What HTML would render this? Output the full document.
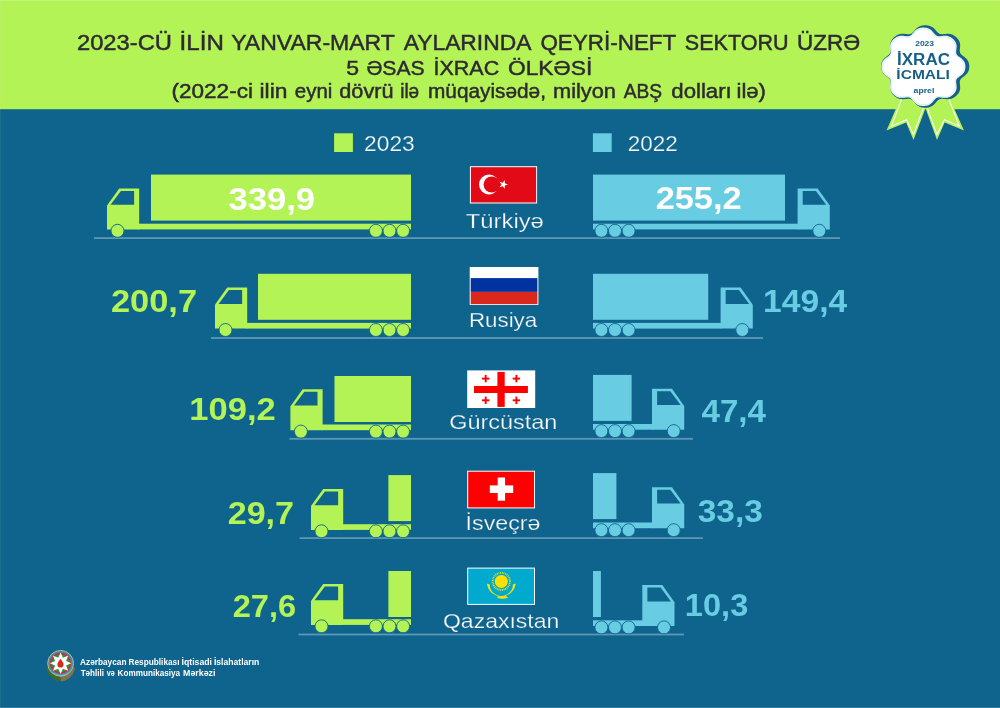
<!DOCTYPE html>
<html lang="az"><head><meta charset="utf-8"><title>İxrac icmalı 2023 aprel</title>
<style>html,body{margin:0;padding:0;background:#0e648c}svg{display:block}text{font-family:"Liberation Sans",Arimo,Helvetica,Arial,sans-serif}</style></head><body>
<svg width="1000" height="708" viewBox="0 0 1000 708">
<rect width="1000" height="708" fill="#0e648c"/>
<rect width="1000" height="109.2" fill="#b4f355"/>
<text y="50.40" font-size="21.80" fill="#2e2a33" stroke="#2e2a33" stroke-width="0.45"><tspan x="76.96" textLength="95.04" lengthAdjust="spacingAndGlyphs">2023-CÜ</tspan> <tspan x="179.62" textLength="44.22" lengthAdjust="spacingAndGlyphs">İLİN</tspan> <tspan x="231.22" textLength="163.22" lengthAdjust="spacingAndGlyphs">YANVAR-MART</tspan> <tspan x="403.72" textLength="126.38" lengthAdjust="spacingAndGlyphs">AYLARINDA</tspan> <tspan x="540.42" textLength="135.48" lengthAdjust="spacingAndGlyphs">QEYRİ-NEFT</tspan> <tspan x="684.80" textLength="103.74" lengthAdjust="spacingAndGlyphs">SEKTORU</tspan> <tspan x="797.12" textLength="62.96" lengthAdjust="spacingAndGlyphs">ÜZRƏ</tspan></text>
<text y="74.90" font-size="20.80" fill="#2e2a33" stroke="#2e2a33" stroke-width="0.45"><tspan x="346.26" textLength="12.82" lengthAdjust="spacingAndGlyphs">5</tspan> <tspan x="366.42" textLength="58.32" lengthAdjust="spacingAndGlyphs">ƏSAS</tspan> <tspan x="433.54" textLength="65.62" lengthAdjust="spacingAndGlyphs">İXRAC</tspan> <tspan x="507.96" textLength="84.34" lengthAdjust="spacingAndGlyphs">ÖLKƏSİ</tspan></text>
<text y="98.20" font-size="19.60" fill="#2e2a33" stroke="#2e2a33" stroke-width="0.45"><tspan x="171.53" textLength="81.43" lengthAdjust="spacingAndGlyphs">(2022-ci</tspan> <tspan x="259.54" textLength="27.89" lengthAdjust="spacingAndGlyphs">ilin</tspan> <tspan x="294.83" textLength="37.59" lengthAdjust="spacingAndGlyphs">eyni</tspan> <tspan x="339.33" textLength="54.13" lengthAdjust="spacingAndGlyphs">dövrü</tspan> <tspan x="400.23" textLength="18.93" lengthAdjust="spacingAndGlyphs">ilə</tspan> <tspan x="428.00" textLength="117.97" lengthAdjust="spacingAndGlyphs">müqayisədə,</tspan> <tspan x="552.99" textLength="62.97" lengthAdjust="spacingAndGlyphs">milyon</tspan> <tspan x="623.79" textLength="38.37" lengthAdjust="spacingAndGlyphs">ABŞ</tspan> <tspan x="671.29" textLength="60.47" lengthAdjust="spacingAndGlyphs">dolları</tspan> <tspan x="736.53" textLength="29.43" lengthAdjust="spacingAndGlyphs">ilə)</tspan></text>
<rect x="334.1" y="133.3" width="18.8" height="18.7" fill="#b4f355"/>
<text x="364.13" y="150.50" font-size="22.20" fill="#fff" textLength="50.66" lengthAdjust="spacingAndGlyphs" stroke="#0e648c" stroke-width="0.25">2023</text>
<rect x="592.9" y="133.3" width="18.8" height="18.7" fill="#68cce3"/>
<text x="627.69" y="150.50" font-size="22.20" fill="#fff" textLength="49.94" lengthAdjust="spacingAndGlyphs" stroke="#0e648c" stroke-width="0.25">2022</text>
<rect x="94.00" y="237.20" width="746.00" height="1.8" fill="#5e97b5"/>
<g fill="#b4f355">
<rect x="151.00" y="174.60" width="260.00" height="46"/>
<rect x="138.20" y="223.70" width="272.80" height="5.7"/>
<path d="M119.20 188.40H139.20V229.40H107.00V205.60Z"/>
<path fill="#0e648c" d="M120.90 190.90H134.10V204.80H110.60Z"/>
<circle cx="117.50" cy="230.80" r="6.5" stroke="#0e648c" stroke-width="0.9"/>
<circle cx="375.90" cy="230.80" r="6.5" stroke="#0e648c" stroke-width="0.9"/>
<circle cx="389.50" cy="230.80" r="6.5" stroke="#0e648c" stroke-width="0.9"/>
<circle cx="403.10" cy="230.80" r="6.5" stroke="#0e648c" stroke-width="0.9"/>
</g>
<g fill="#68cce3">
<rect x="593.00" y="174.60" width="192.00" height="46"/>
<rect x="593.00" y="223.70" width="205.60" height="5.7"/>
<path d="M817.60 188.40H797.60V229.40H829.80V205.60Z"/>
<path fill="#0e648c" d="M815.90 190.90H802.70V204.80H826.20Z"/>
<circle cx="819.30" cy="230.80" r="6.5" stroke="#0e648c" stroke-width="0.9"/>
<circle cx="628.60" cy="230.80" r="6.5" stroke="#0e648c" stroke-width="0.9"/>
<circle cx="615.00" cy="230.80" r="6.5" stroke="#0e648c" stroke-width="0.9"/>
<circle cx="601.40" cy="230.80" r="6.5" stroke="#0e648c" stroke-width="0.9"/>
</g>
<rect x="211.00" y="337.10" width="552.00" height="1.8" fill="#5e97b5"/>
<g fill="#b4f355">
<rect x="258.00" y="273.80" width="153.00" height="46"/>
<rect x="246.20" y="322.90" width="164.80" height="5.7"/>
<path d="M227.20 287.60H247.20V328.60H215.00V304.80Z"/>
<path fill="#0e648c" d="M228.90 290.10H242.10V304.00H218.60Z"/>
<circle cx="225.50" cy="330.00" r="6.5" stroke="#0e648c" stroke-width="0.9"/>
<circle cx="375.90" cy="330.00" r="6.5" stroke="#0e648c" stroke-width="0.9"/>
<circle cx="389.50" cy="330.00" r="6.5" stroke="#0e648c" stroke-width="0.9"/>
<circle cx="403.10" cy="330.00" r="6.5" stroke="#0e648c" stroke-width="0.9"/>
</g>
<g fill="#68cce3">
<rect x="593.00" y="273.80" width="115.20" height="46"/>
<rect x="593.00" y="322.90" width="128.60" height="5.7"/>
<path d="M740.60 287.60H720.60V328.60H752.80V304.80Z"/>
<path fill="#0e648c" d="M738.90 290.10H725.70V304.00H749.20Z"/>
<circle cx="742.30" cy="330.00" r="6.5" stroke="#0e648c" stroke-width="0.9"/>
<circle cx="628.60" cy="330.00" r="6.5" stroke="#0e648c" stroke-width="0.9"/>
<circle cx="615.00" cy="330.00" r="6.5" stroke="#0e648c" stroke-width="0.9"/>
<circle cx="601.40" cy="330.00" r="6.5" stroke="#0e648c" stroke-width="0.9"/>
</g>
<rect x="289.50" y="437.90" width="403.50" height="1.8" fill="#5e97b5"/>
<g fill="#b4f355">
<rect x="334.50" y="376.00" width="76.50" height="46"/>
<rect x="321.60" y="424.50" width="89.40" height="5.7"/>
<path d="M302.60 389.20H322.60V430.20H290.40V406.40Z"/>
<path fill="#0e648c" d="M304.30 391.70H317.50V405.60H294.00Z"/>
<circle cx="300.90" cy="431.60" r="6.5" stroke="#0e648c" stroke-width="0.9"/>
<circle cx="375.90" cy="431.60" r="6.5" stroke="#0e648c" stroke-width="0.9"/>
<circle cx="389.50" cy="431.60" r="6.5" stroke="#0e648c" stroke-width="0.9"/>
<circle cx="403.10" cy="431.60" r="6.5" stroke="#0e648c" stroke-width="0.9"/>
</g>
<g fill="#68cce3">
<rect x="593.00" y="374.90" width="38.60" height="46"/>
<rect x="593.00" y="424.00" width="60.00" height="5.7"/>
<path d="M672.00 388.70H652.00V429.70H684.20V405.90Z"/>
<path fill="#0e648c" d="M670.30 391.20H657.10V405.10H680.60Z"/>
<circle cx="673.70" cy="431.10" r="6.5" stroke="#0e648c" stroke-width="0.9"/>
<circle cx="628.60" cy="431.10" r="6.5" stroke="#0e648c" stroke-width="0.9"/>
<circle cx="615.00" cy="431.10" r="6.5" stroke="#0e648c" stroke-width="0.9"/>
<circle cx="601.40" cy="431.10" r="6.5" stroke="#0e648c" stroke-width="0.9"/>
</g>
<rect x="299.60" y="537.20" width="403.20" height="1.8" fill="#5e97b5"/>
<g fill="#b4f355">
<rect x="388.40" y="475.10" width="22.60" height="46"/>
<rect x="342.20" y="524.20" width="68.80" height="5.7"/>
<path d="M323.20 488.90H343.20V529.90H311.00V506.10Z"/>
<path fill="#0e648c" d="M324.90 491.40H338.10V505.30H314.60Z"/>
<circle cx="321.50" cy="531.30" r="6.5" stroke="#0e648c" stroke-width="0.9"/>
<circle cx="375.90" cy="531.30" r="6.5" stroke="#0e648c" stroke-width="0.9"/>
<circle cx="389.50" cy="531.30" r="6.5" stroke="#0e648c" stroke-width="0.9"/>
<circle cx="403.10" cy="531.30" r="6.5" stroke="#0e648c" stroke-width="0.9"/>
</g>
<g fill="#68cce3">
<rect x="593.00" y="473.10" width="23.40" height="46"/>
<rect x="593.00" y="522.50" width="60.00" height="5.7"/>
<path d="M672.00 487.20H652.00V528.20H684.20V504.40Z"/>
<path fill="#0e648c" d="M670.30 489.70H657.10V503.60H680.60Z"/>
<circle cx="673.70" cy="530.20" r="6.5" stroke="#0e648c" stroke-width="0.9"/>
<circle cx="628.60" cy="530.20" r="6.5" stroke="#0e648c" stroke-width="0.9"/>
<circle cx="615.00" cy="530.20" r="6.5" stroke="#0e648c" stroke-width="0.9"/>
<circle cx="601.40" cy="530.20" r="6.5" stroke="#0e648c" stroke-width="0.9"/>
</g>
<rect x="298.40" y="633.60" width="385.60" height="1.8" fill="#5e97b5"/>
<g fill="#b4f355">
<rect x="388.40" y="571.00" width="22.60" height="46"/>
<rect x="342.20" y="619.20" width="68.80" height="5.7"/>
<path d="M323.20 583.90H343.20V624.90H311.00V601.10Z"/>
<path fill="#0e648c" d="M324.90 586.40H338.10V600.30H314.60Z"/>
<circle cx="321.50" cy="626.30" r="6.5" stroke="#0e648c" stroke-width="0.9"/>
<circle cx="375.90" cy="626.30" r="6.5" stroke="#0e648c" stroke-width="0.9"/>
<circle cx="389.50" cy="626.30" r="6.5" stroke="#0e648c" stroke-width="0.9"/>
<circle cx="403.10" cy="626.30" r="6.5" stroke="#0e648c" stroke-width="0.9"/>
</g>
<g fill="#68cce3">
<rect x="593.00" y="571.00" width="7.90" height="46"/>
<rect x="593.00" y="620.30" width="50.30" height="5.7"/>
<path d="M662.30 585.00H642.30V626.00H674.50V602.20Z"/>
<path fill="#0e648c" d="M660.60 587.50H647.40V601.40H670.90Z"/>
<circle cx="664.00" cy="627.40" r="6.5" stroke="#0e648c" stroke-width="0.9"/>
<circle cx="628.60" cy="627.40" r="6.5" stroke="#0e648c" stroke-width="0.9"/>
<circle cx="615.00" cy="627.40" r="6.5" stroke="#0e648c" stroke-width="0.9"/>
<circle cx="601.40" cy="627.40" r="6.5" stroke="#0e648c" stroke-width="0.9"/>
</g>
<text x="228.43" y="209.60" font-size="32.20" fill="#fff" font-weight="bold" textLength="86.64" lengthAdjust="spacingAndGlyphs">339,9</text>
<text x="655.69" y="209.40" font-size="32.20" fill="#fff" font-weight="bold" textLength="85.90" lengthAdjust="spacingAndGlyphs">255,2</text>
<text x="110.95" y="311.80" font-size="32.20" fill="#b4f355" font-weight="bold" textLength="86.16" lengthAdjust="spacingAndGlyphs">200,7</text>
<text x="763.13" y="311.70" font-size="32.20" fill="#68cce3" font-weight="bold" textLength="84.10" lengthAdjust="spacingAndGlyphs">149,4</text>
<text x="189.39" y="420.00" font-size="32.20" fill="#b4f355" font-weight="bold" textLength="86.46" lengthAdjust="spacingAndGlyphs">109,2</text>
<text x="701.49" y="422.20" font-size="32.20" fill="#68cce3" font-weight="bold" textLength="64.52" lengthAdjust="spacingAndGlyphs">47,4</text>
<text x="227.67" y="523.50" font-size="32.20" fill="#b4f355" font-weight="bold" textLength="66.40" lengthAdjust="spacingAndGlyphs">29,7</text>
<text x="697.71" y="521.60" font-size="32.20" fill="#68cce3" font-weight="bold" textLength="65.10" lengthAdjust="spacingAndGlyphs">33,3</text>
<text x="232.71" y="616.60" font-size="32.20" fill="#b4f355" font-weight="bold" textLength="63.38" lengthAdjust="spacingAndGlyphs">27,6</text>
<text x="684.89" y="616.30" font-size="32.20" fill="#68cce3" font-weight="bold" textLength="63.42" lengthAdjust="spacingAndGlyphs">10,3</text>
<text x="465.75" y="227.60" font-size="21.10" fill="#fff" textLength="78.07" lengthAdjust="spacingAndGlyphs" stroke="#0e648c" stroke-width="0.25">Türkiyə</text>
<text x="468.91" y="326.70" font-size="21.10" fill="#fff" textLength="68.33" lengthAdjust="spacingAndGlyphs" stroke="#0e648c" stroke-width="0.25">Rusiya</text>
<text x="449.21" y="429.00" font-size="21.10" fill="#fff" textLength="108.11" lengthAdjust="spacingAndGlyphs" stroke="#0e648c" stroke-width="0.25">Gürcüstan</text>
<text x="465.63" y="529.50" font-size="21.10" fill="#fff" textLength="74.93" lengthAdjust="spacingAndGlyphs" stroke="#0e648c" stroke-width="0.25">İsveçrə</text>
<text x="442.94" y="627.60" font-size="21.10" fill="#fff" textLength="116.37" lengthAdjust="spacingAndGlyphs" stroke="#0e648c" stroke-width="0.25">Qazaxıstan</text>
<rect x="469.90" y="166.20" width="67.20" height="37.30" fill="#fff"/>
<rect x="470.90" y="167.20" width="65.20" height="35.30" fill="#e30a17"/>
<circle cx="489" cy="184.5" r="10" fill="#fff"/><circle cx="491.7" cy="184.5" r="8.1" fill="#e30a17"/>
<polygon points="504.75,179.93 504.80,183.31 508.00,184.40 504.80,185.49 504.75,188.87 502.73,186.16 499.50,187.16 501.45,184.40 499.50,181.64 502.73,182.64" fill="#fff"/>
<rect x="469.70" y="267.00" width="68.70" height="37.90" fill="#fff"/>
<rect x="470.70" y="278.10" width="66.70" height="13.80" fill="#0033a0"/>
<rect x="470.70" y="291.90" width="66.70" height="12.20" fill="#da291c"/>
<rect x="467.20" y="370.40" width="68.00" height="37.60" fill="#fff"/>
<g fill="#ff0000"><rect x="497.4" y="371.9" width="7.3" height="35"/><rect x="474" y="386" width="53.9" height="7"/>
<rect x="484.75" y="374.90" width="1.9" height="7.4"/><rect x="482.00" y="377.65" width="7.4" height="1.9"/>
<rect x="484.75" y="396.60" width="1.9" height="7.4"/><rect x="482.00" y="399.35" width="7.4" height="1.9"/>
<rect x="515.45" y="374.90" width="1.9" height="7.4"/><rect x="512.70" y="377.65" width="7.4" height="1.9"/>
<rect x="515.45" y="396.60" width="1.9" height="7.4"/><rect x="512.70" y="399.35" width="7.4" height="1.9"/>
</g>
<rect x="467.20" y="470.70" width="67.80" height="37.70" fill="#fff"/>
<rect x="468.20" y="471.70" width="65.80" height="35.70" fill="#ff0000"/>
<rect x="497.7" y="477.5" width="7.4" height="23.2" fill="#fff"/><rect x="489.8" y="485.4" width="23.4" height="7.6" fill="#fff"/>
<rect x="467.20" y="567.60" width="67.80" height="37.30" fill="#fff"/>
<rect x="468.20" y="568.60" width="65.80" height="35.30" fill="#00a9ce"/>
<g fill="#ffe000">
<circle cx="501.3" cy="581.4" r="6.5"/>
<circle cx="501.3" cy="581.4" r="8.6" fill="none" stroke="#ffe000" stroke-width="1.8" stroke-dasharray="0.9 0.8"/>
<path d="M486.9 583.6A14.5 14.5 0 0 0 515.7 583.6L512.9 584.4A11.6 11.6 0 0 1 489.7 584.4Z"/>
<ellipse cx="502.4" cy="597.3" rx="5.3" ry="1.4"/>
</g>
<g fill="#b4f355"><path d="M900.5 98L886.5 130.6L906.2 122.6L913.5 140L925.2 109L922 98Z"/><path d="M925.8 109L937 140L944.6 122.6L964 130.6L949.5 98L928 98Z"/></g>
<g fill="none" stroke="#fff" stroke-width="1.05" stroke-linejoin="miter"><path d="M901.8 98.5L891.4 126.2L906.6 119.8L913.5 134.6L923.4 108L921 100"/><path d="M927.3 108L937 134.6L944.4 119.8L959.4 126.2L948.6 98.5"/></g>
<path d="M925.20 25.30L925.97 25.32L926.74 25.36L927.50 25.44L928.26 25.56L929.02 25.72L929.76 25.93L930.50 26.19L931.21 26.51L931.91 26.89L932.59 27.33L933.24 27.82L933.87 28.37L934.48 28.95L935.06 29.56L935.61 30.18L936.15 30.80L936.68 31.41L937.20 31.98L937.73 32.50L938.26 32.96L938.82 33.35L939.39 33.67L940.01 33.90L940.65 34.06L941.34 34.15L942.07 34.18L942.83 34.16L943.63 34.10L944.46 34.02L945.32 33.94L946.18 33.86L947.05 33.82L947.92 33.80L948.77 33.84L949.61 33.92L950.42 34.06L951.20 34.25L951.95 34.50L952.67 34.80L953.35 35.14L954.01 35.53L954.64 35.95L955.24 36.39L955.82 36.87L956.37 37.37L956.90 37.89L957.41 38.43L957.89 38.99L958.34 39.58L958.75 40.19L959.12 40.83L959.44 41.50L959.71 42.20L959.91 42.93L960.06 43.69L960.15 44.47L960.19 45.27L960.17 46.08L960.12 46.89L960.04 47.70L959.95 48.50L959.87 49.27L959.81 50.02L959.78 50.74L959.81 51.42L959.91 52.06L960.08 52.66L960.33 53.23L960.67 53.78L961.09 54.29L961.58 54.79L962.14 55.28L962.75 55.77L963.40 56.26L964.06 56.77L964.73 57.29L965.38 57.83L966.00 58.39L966.58 58.98L967.11 59.59L967.58 60.23L967.99 60.88L968.33 61.55L968.61 62.24L968.83 62.93L969.01 63.64L969.13 64.35L969.22 65.06L969.27 65.78L969.28 66.50L969.27 67.22L969.22 67.94L969.13 68.65L969.01 69.36L968.83 70.07L968.61 70.76L968.33 71.45L967.99 72.12L967.58 72.77L967.11 73.41L966.58 74.02L966.00 74.61L965.38 75.17L964.73 75.71L964.06 76.23L963.40 76.74L962.75 77.23L962.14 77.72L961.58 78.21L961.09 78.71L960.67 79.22L960.33 79.77L960.08 80.34L959.91 80.94L959.81 81.58L959.78 82.26L959.81 82.98L959.87 83.73L959.95 84.50L960.04 85.30L960.12 86.11L960.17 86.92L960.19 87.73L960.15 88.53L960.06 89.31L959.91 90.07L959.71 90.80L959.44 91.50L959.12 92.17L958.75 92.81L958.34 93.42L957.89 94.01L957.41 94.57L956.90 95.11L956.37 95.63L955.82 96.13L955.24 96.61L954.64 97.05L954.01 97.47L953.35 97.86L952.67 98.20L951.95 98.50L951.20 98.75L950.42 98.94L949.61 99.08L948.77 99.16L947.92 99.20L947.05 99.18L946.18 99.14L945.32 99.06L944.46 98.98L943.63 98.90L942.83 98.84L942.07 98.82L941.34 98.85L940.65 98.94L940.01 99.10L939.39 99.33L938.82 99.65L938.26 100.04L937.73 100.50L937.20 101.02L936.68 101.59L936.15 102.20L935.61 102.82L935.06 103.44L934.48 104.05L933.87 104.63L933.24 105.18L932.59 105.67L931.91 106.11L931.21 106.49L930.50 106.81L929.76 107.07L929.02 107.28L928.26 107.44L927.50 107.56L926.74 107.64L925.97 107.68L925.20 107.70L924.43 107.68L923.66 107.64L922.90 107.56L922.14 107.44L921.38 107.28L920.64 107.07L919.90 106.81L919.19 106.49L918.49 106.11L917.81 105.67L917.16 105.18L916.53 104.63L915.92 104.05L915.34 103.44L914.79 102.82L914.25 102.20L913.72 101.59L913.20 101.02L912.67 100.50L912.14 100.04L911.58 99.65L911.01 99.33L910.39 99.10L909.75 98.94L909.06 98.85L908.33 98.82L907.57 98.84L906.77 98.90L905.94 98.98L905.08 99.06L904.22 99.14L903.35 99.18L902.48 99.20L901.63 99.16L900.79 99.08L899.98 98.94L899.20 98.75L898.45 98.50L897.73 98.20L897.05 97.86L896.39 97.47L895.76 97.05L895.16 96.61L894.58 96.13L894.03 95.63L893.50 95.11L892.99 94.57L892.51 94.01L892.06 93.42L891.65 92.81L891.28 92.17L890.96 91.50L890.69 90.80L890.49 90.07L890.34 89.31L890.25 88.53L890.21 87.73L890.23 86.92L890.28 86.11L890.36 85.30L890.45 84.50L890.53 83.73L890.59 82.98L890.62 82.26L890.59 81.58L890.49 80.94L890.32 80.34L890.07 79.77L889.73 79.22L889.31 78.71L888.82 78.21L888.26 77.72L887.65 77.23L887.00 76.74L886.34 76.23L885.67 75.71L885.02 75.17L884.40 74.61L883.82 74.02L883.29 73.41L882.82 72.77L882.41 72.12L882.07 71.45L881.79 70.76L881.57 70.07L881.39 69.36L881.27 68.65L881.18 67.94L881.13 67.22L881.12 66.50L881.13 65.78L881.18 65.06L881.27 64.35L881.39 63.64L881.57 62.93L881.79 62.24L882.07 61.55L882.41 60.88L882.82 60.23L883.29 59.59L883.82 58.98L884.40 58.39L885.02 57.83L885.67 57.29L886.34 56.77L887.00 56.26L887.65 55.77L888.26 55.28L888.82 54.79L889.31 54.29L889.73 53.78L890.07 53.23L890.32 52.66L890.49 52.06L890.59 51.42L890.62 50.74L890.59 50.02L890.53 49.27L890.45 48.50L890.36 47.70L890.28 46.89L890.23 46.08L890.21 45.27L890.25 44.47L890.34 43.69L890.49 42.93L890.69 42.20L890.96 41.50L891.28 40.83L891.65 40.19L892.06 39.58L892.51 38.99L892.99 38.43L893.50 37.89L894.03 37.37L894.58 36.87L895.16 36.39L895.76 35.95L896.39 35.53L897.05 35.14L897.73 34.80L898.45 34.50L899.20 34.25L899.98 34.06L900.79 33.92L901.63 33.84L902.48 33.80L903.35 33.82L904.22 33.86L905.08 33.94L905.94 34.02L906.77 34.10L907.57 34.16L908.33 34.18L909.06 34.15L909.75 34.06L910.39 33.90L911.01 33.67L911.58 33.35L912.14 32.96L912.67 32.50L913.20 31.98L913.72 31.41L914.25 30.80L914.79 30.18L915.34 29.56L915.92 28.95L916.53 28.37L917.16 27.82L917.81 27.33L918.49 26.89L919.19 26.51L919.90 26.19L920.64 25.93L921.38 25.72L922.14 25.56L922.90 25.44L923.66 25.36L924.43 25.32Z" fill="#16608b"/>
<path d="M923.40 27.60L924.13 27.61L924.86 27.66L925.59 27.74L926.32 27.85L927.03 28.01L927.74 28.21L928.44 28.47L929.12 28.79L929.78 29.16L930.42 29.59L931.04 30.08L931.63 30.61L932.20 31.18L932.75 31.78L933.27 32.39L933.77 33.00L934.27 33.60L934.75 34.15L935.24 34.66L935.75 35.11L936.26 35.49L936.81 35.79L937.39 36.01L938.00 36.16L938.65 36.24L939.35 36.25L940.08 36.21L940.85 36.14L941.64 36.05L942.46 35.95L943.30 35.86L944.13 35.80L944.97 35.77L945.79 35.78L946.60 35.85L947.38 35.97L948.13 36.14L948.85 36.37L949.53 36.65L950.19 36.97L950.82 37.33L951.42 37.73L951.99 38.16L952.54 38.61L953.07 39.08L953.58 39.57L954.06 40.09L954.52 40.62L954.94 41.18L955.33 41.77L955.67 42.38L955.97 43.03L956.21 43.70L956.40 44.40L956.53 45.13L956.60 45.88L956.61 46.65L956.58 47.43L956.51 48.21L956.42 48.99L956.31 49.75L956.21 50.50L956.14 51.22L956.10 51.90L956.11 52.55L956.19 53.16L956.35 53.73L956.59 54.27L956.91 54.78L957.32 55.27L957.80 55.73L958.34 56.19L958.94 56.65L959.57 57.11L960.23 57.58L960.88 58.07L961.53 58.58L962.14 59.11L962.71 59.66L963.23 60.24L963.69 60.84L964.09 61.46L964.42 62.09L964.70 62.74L964.92 63.41L965.09 64.08L965.21 64.75L965.30 65.43L965.35 66.12L965.36 66.80L965.35 67.48L965.30 68.17L965.21 68.85L965.09 69.52L964.92 70.19L964.70 70.86L964.42 71.51L964.09 72.14L963.69 72.76L963.23 73.36L962.71 73.94L962.14 74.49L961.53 75.02L960.88 75.53L960.23 76.02L959.57 76.49L958.94 76.95L958.34 77.41L957.80 77.87L957.32 78.33L956.91 78.82L956.59 79.33L956.35 79.87L956.19 80.44L956.11 81.05L956.10 81.70L956.14 82.38L956.21 83.10L956.31 83.85L956.42 84.61L956.51 85.39L956.58 86.17L956.61 86.95L956.60 87.72L956.53 88.47L956.40 89.20L956.21 89.90L955.97 90.57L955.67 91.22L955.33 91.83L954.94 92.42L954.52 92.98L954.06 93.51L953.58 94.03L953.07 94.52L952.54 94.99L951.99 95.44L951.42 95.87L950.82 96.27L950.19 96.63L949.53 96.95L948.85 97.23L948.13 97.46L947.38 97.63L946.60 97.75L945.79 97.82L944.97 97.83L944.13 97.80L943.30 97.74L942.46 97.65L941.64 97.55L940.85 97.46L940.08 97.39L939.35 97.35L938.65 97.36L938.00 97.44L937.39 97.59L936.81 97.81L936.26 98.11L935.75 98.49L935.24 98.94L934.75 99.45L934.27 100.00L933.77 100.60L933.27 101.21L932.75 101.82L932.20 102.42L931.63 102.99L931.04 103.52L930.42 104.01L929.78 104.44L929.12 104.81L928.44 105.13L927.74 105.39L927.03 105.59L926.32 105.75L925.59 105.86L924.86 105.94L924.13 105.99L923.40 106.00L922.67 105.99L921.94 105.94L921.21 105.86L920.48 105.75L919.77 105.59L919.06 105.39L918.36 105.13L917.68 104.81L917.02 104.44L916.38 104.01L915.76 103.52L915.17 102.99L914.60 102.42L914.05 101.82L913.53 101.21L913.03 100.60L912.53 100.00L912.05 99.45L911.56 98.94L911.05 98.49L910.54 98.11L909.99 97.81L909.41 97.59L908.80 97.44L908.15 97.36L907.45 97.35L906.72 97.39L905.95 97.46L905.16 97.55L904.34 97.65L903.50 97.74L902.67 97.80L901.83 97.83L901.01 97.82L900.20 97.75L899.42 97.63L898.67 97.46L897.95 97.23L897.27 96.95L896.61 96.63L895.98 96.27L895.38 95.87L894.81 95.44L894.26 94.99L893.73 94.52L893.22 94.03L892.74 93.51L892.28 92.98L891.86 92.42L891.47 91.83L891.13 91.22L890.83 90.57L890.59 89.90L890.40 89.20L890.27 88.47L890.20 87.72L890.19 86.95L890.22 86.17L890.29 85.39L890.38 84.61L890.49 83.85L890.59 83.10L890.66 82.38L890.70 81.70L890.69 81.05L890.61 80.44L890.45 79.87L890.21 79.33L889.89 78.82L889.48 78.33L889.00 77.87L888.46 77.41L887.86 76.95L887.23 76.49L886.57 76.02L885.92 75.53L885.27 75.02L884.66 74.49L884.09 73.94L883.57 73.36L883.11 72.76L882.71 72.14L882.38 71.51L882.10 70.86L881.88 70.19L881.71 69.52L881.59 68.85L881.50 68.17L881.45 67.48L881.44 66.80L881.45 66.12L881.50 65.43L881.59 64.75L881.71 64.08L881.88 63.41L882.10 62.74L882.38 62.09L882.71 61.46L883.11 60.84L883.57 60.24L884.09 59.66L884.66 59.11L885.27 58.58L885.92 58.07L886.57 57.58L887.23 57.11L887.86 56.65L888.46 56.19L889.00 55.73L889.48 55.27L889.89 54.78L890.21 54.27L890.45 53.73L890.61 53.16L890.69 52.55L890.70 51.90L890.66 51.22L890.59 50.50L890.49 49.75L890.38 48.99L890.29 48.21L890.22 47.43L890.19 46.65L890.20 45.88L890.27 45.13L890.40 44.40L890.59 43.70L890.83 43.03L891.13 42.38L891.47 41.77L891.86 41.18L892.28 40.62L892.74 40.09L893.22 39.57L893.73 39.08L894.26 38.61L894.81 38.16L895.38 37.73L895.98 37.33L896.61 36.97L897.27 36.65L897.95 36.37L898.67 36.14L899.42 35.97L900.20 35.85L901.01 35.78L901.83 35.77L902.67 35.80L903.50 35.86L904.34 35.95L905.16 36.05L905.95 36.14L906.72 36.21L907.45 36.25L908.15 36.24L908.80 36.16L909.41 36.01L909.99 35.79L910.54 35.49L911.05 35.11L911.56 34.66L912.05 34.15L912.53 33.60L913.03 33.00L913.53 32.39L914.05 31.78L914.60 31.18L915.17 30.61L915.76 30.08L916.38 29.59L917.02 29.16L917.68 28.79L918.36 28.47L919.06 28.21L919.77 28.01L920.48 27.85L921.21 27.74L921.94 27.66L922.67 27.61Z" fill="#fff"/>
<path d="M923.50 28.89L924.21 28.90L924.91 28.95L925.62 29.02L926.32 29.13L927.01 29.27L927.70 29.47L928.37 29.71L929.03 30.01L929.68 30.37L930.30 30.78L930.90 31.25L931.47 31.77L932.02 32.32L932.55 32.90L933.05 33.50L933.54 34.09L934.01 34.67L934.49 35.21L934.96 35.71L935.44 36.15L935.94 36.51L936.47 36.81L937.03 37.02L937.62 37.16L938.26 37.23L938.93 37.25L939.64 37.21L940.38 37.13L941.16 37.04L941.95 36.94L942.76 36.85L943.57 36.79L944.38 36.76L945.18 36.78L945.95 36.84L946.71 36.96L947.43 37.13L948.12 37.36L948.78 37.63L949.42 37.94L950.02 38.30L950.60 38.68L951.15 39.10L951.68 39.54L952.19 39.99L952.68 40.47L953.15 40.97L953.59 41.48L954.01 42.02L954.39 42.59L954.72 43.18L955.02 43.80L955.26 44.44L955.44 45.12L955.57 45.82L955.64 46.55L955.65 47.29L955.62 48.05L955.55 48.81L955.46 49.56L955.35 50.30L955.25 51.03L955.18 51.72L955.13 52.39L955.15 53.01L955.22 53.60L955.37 54.16L955.60 54.68L955.92 55.17L956.31 55.64L956.78 56.09L957.31 56.54L957.89 56.98L958.51 57.42L959.14 57.88L959.78 58.35L960.41 58.84L961.00 59.35L961.55 59.89L962.05 60.45L962.49 61.03L962.88 61.63L963.20 62.25L963.46 62.88L963.67 63.52L963.82 64.17L963.94 64.82L964.02 65.48L964.06 66.14L964.08 66.80L964.06 67.46L964.02 68.12L963.94 68.78L963.82 69.43L963.67 70.08L963.46 70.72L963.20 71.35L962.88 71.97L962.49 72.57L962.05 73.15L961.55 73.71L961.00 74.25L960.41 74.76L959.78 75.25L959.14 75.72L958.51 76.18L957.89 76.62L957.31 77.06L956.78 77.51L956.31 77.96L955.92 78.43L955.60 78.92L955.37 79.44L955.22 80.00L955.15 80.59L955.13 81.21L955.18 81.88L955.25 82.57L955.35 83.30L955.46 84.04L955.55 84.79L955.62 85.55L955.65 86.31L955.64 87.05L955.57 87.78L955.44 88.48L955.26 89.16L955.02 89.80L954.72 90.42L954.39 91.01L954.01 91.58L953.59 92.12L953.15 92.63L952.68 93.13L952.19 93.61L951.68 94.06L951.15 94.50L950.60 94.92L950.02 95.30L949.42 95.66L948.78 95.97L948.12 96.24L947.43 96.47L946.71 96.64L945.95 96.76L945.18 96.82L944.38 96.84L943.57 96.81L942.76 96.75L941.95 96.66L941.16 96.56L940.38 96.47L939.64 96.39L938.93 96.35L938.26 96.37L937.62 96.44L937.03 96.58L936.47 96.79L935.94 97.09L935.44 97.45L934.96 97.89L934.49 98.39L934.01 98.93L933.54 99.51L933.05 100.10L932.55 100.70L932.02 101.28L931.47 101.83L930.90 102.35L930.30 102.82L929.68 103.23L929.03 103.59L928.37 103.89L927.70 104.13L927.01 104.33L926.32 104.47L925.62 104.58L924.91 104.65L924.21 104.70L923.50 104.71L922.79 104.70L922.09 104.65L921.38 104.58L920.68 104.47L919.99 104.33L919.30 104.13L918.63 103.89L917.97 103.59L917.32 103.23L916.70 102.82L916.10 102.35L915.53 101.83L914.98 101.28L914.45 100.70L913.95 100.10L913.46 99.51L912.99 98.93L912.51 98.39L912.04 97.89L911.56 97.45L911.06 97.09L910.53 96.79L909.97 96.58L909.38 96.44L908.74 96.37L908.07 96.35L907.36 96.39L906.62 96.47L905.84 96.56L905.05 96.66L904.24 96.75L903.43 96.81L902.62 96.84L901.82 96.82L901.05 96.76L900.29 96.64L899.57 96.47L898.88 96.24L898.22 95.97L897.58 95.66L896.98 95.30L896.40 94.92L895.85 94.50L895.32 94.06L894.81 93.61L894.32 93.13L893.85 92.63L893.41 92.12L892.99 91.58L892.61 91.01L892.28 90.42L891.98 89.80L891.74 89.16L891.56 88.48L891.43 87.78L891.36 87.05L891.35 86.31L891.38 85.55L891.45 84.79L891.54 84.04L891.65 83.30L891.75 82.57L891.82 81.88L891.87 81.21L891.85 80.59L891.78 80.00L891.63 79.44L891.40 78.92L891.08 78.43L890.69 77.96L890.22 77.51L889.69 77.06L889.11 76.62L888.49 76.18L887.86 75.72L887.22 75.25L886.59 74.76L886.00 74.25L885.45 73.71L884.95 73.15L884.51 72.57L884.12 71.97L883.80 71.35L883.54 70.72L883.33 70.08L883.18 69.43L883.06 68.78L882.98 68.12L882.94 67.46L882.92 66.80L882.94 66.14L882.98 65.48L883.06 64.82L883.18 64.17L883.33 63.52L883.54 62.88L883.80 62.25L884.12 61.63L884.51 61.03L884.95 60.45L885.45 59.89L886.00 59.35L886.59 58.84L887.22 58.35L887.86 57.88L888.49 57.42L889.11 56.98L889.69 56.54L890.22 56.09L890.69 55.64L891.08 55.17L891.40 54.68L891.63 54.16L891.78 53.60L891.85 53.01L891.87 52.39L891.82 51.72L891.75 51.03L891.65 50.30L891.54 49.56L891.45 48.81L891.38 48.05L891.35 47.29L891.36 46.55L891.43 45.82L891.56 45.12L891.74 44.44L891.98 43.80L892.28 43.18L892.61 42.59L892.99 42.02L893.41 41.48L893.85 40.97L894.32 40.47L894.81 39.99L895.32 39.54L895.85 39.10L896.40 38.68L896.98 38.30L897.58 37.94L898.22 37.63L898.88 37.36L899.57 37.13L900.29 36.96L901.05 36.84L901.82 36.78L902.62 36.76L903.43 36.79L904.24 36.85L905.05 36.94L905.84 37.04L906.62 37.13L907.36 37.21L908.07 37.25L908.74 37.23L909.38 37.16L909.97 37.02L910.53 36.81L911.06 36.51L911.56 36.15L912.04 35.71L912.51 35.21L912.99 34.67L913.46 34.09L913.95 33.50L914.45 32.90L914.98 32.32L915.53 31.77L916.10 31.25L916.70 30.78L917.32 30.37L917.97 30.01L918.63 29.71L919.30 29.47L919.99 29.27L920.68 29.13L921.38 29.02L922.09 28.95L922.79 28.90Z" fill="none" stroke="#9fd4e8" stroke-width="0.5"/>
<text x="915.16" y="45.50" font-size="7.40" fill="#17608a" font-weight="bold" textLength="18.93" lengthAdjust="spacingAndGlyphs">2023</text>
<text x="897.00" y="64.80" font-size="15.60" fill="#17608a" font-weight="bold" textLength="53.01" lengthAdjust="spacingAndGlyphs">İXRAC</text>
<text x="896.33" y="79.40" font-size="13.30" fill="#17608a" font-weight="bold" textLength="53.55" lengthAdjust="spacingAndGlyphs">İCMALI</text>
<text x="913.60" y="93.20" font-size="7.90" fill="#17608a" font-weight="bold" textLength="20.80" lengthAdjust="spacingAndGlyphs">aprel</text>
<g>
<path d="M46.6 667.5c-.4 2.500.8 4 1.500 5c.2 2 1.500 3.200 2.800 4c.8 1.800 2.500 2.800 4 3.200c1.500 1.300 3.500 1.700 5.700 1.600l0-6.800a10 10 0 0 1-9-7z" fill="#3f6a30"/>
<path d="M74.800 667.500c.3 2.500-.8 4-1.500 5c-.2 2-1.500 3.200-2.800 4c-.8 1.800-2.500 2.800-4 3.200c-1.500 1.300-3.700 1.700-5.900 1.600l0-6.800a10 10 0 0 0 9.200-7z" fill="#80744f"/>
<circle cx="60.60" cy="663.30" r="12.9" fill="#2a93d8" stroke="#c8b860" stroke-width="1"/>
<path d="M51.40 671.60a12.400 12.400 0 0 0 18.400 0a14 14 0 0 1-18.400 0z" fill="#6fd0ee"/>
<circle cx="60.60" cy="663.30" r="10.6" fill="#dc2a1e"/>
<circle cx="60.60" cy="663.30" r="8.9" fill="#1f9e44"/>
<polygon points="60.60,652.60 62.86,657.85 68.17,655.73 66.05,661.04 71.30,663.30 66.05,665.56 68.17,670.87 62.86,668.75 60.60,674.00 58.34,668.75 53.03,670.87 55.15,665.56 49.90,663.30 55.15,661.04 53.03,655.73 58.34,657.85" fill="#fff"/>
<path d="M60.50 658.70c1 1.700 3.100 3.500 3.100 5.800a3.100 3.100 0 0 1-6.200 0c0-2.300 2.100-4.100 3.100-5.800z" fill="#e0251b"/>
</g>
<text y="664.90" font-size="9.60" fill="#fff" font-weight="bold"><tspan x="80.02" textLength="46.46" lengthAdjust="spacingAndGlyphs">Azərbaycan</tspan> <tspan x="128.52" textLength="50.96" lengthAdjust="spacingAndGlyphs">Respublikası</tspan> <tspan x="181.52" textLength="30.46" lengthAdjust="spacingAndGlyphs">İqtisadi</tspan> <tspan x="213.90" textLength="45.40" lengthAdjust="spacingAndGlyphs">İslahatların</tspan></text>
<text y="675.60" font-size="9.60" fill="#fff" font-weight="bold"><tspan x="80.64" textLength="23.34" lengthAdjust="spacingAndGlyphs">Təhlili</tspan> <tspan x="106.82" textLength="7.98" lengthAdjust="spacingAndGlyphs">və</tspan> <tspan x="117.52" textLength="62.66" lengthAdjust="spacingAndGlyphs">Kommunikasiya</tspan> <tspan x="183.02" textLength="32.46" lengthAdjust="spacingAndGlyphs">Mərkəzi</tspan></text>
<rect x="0" y="0" width="1000" height="1" fill="#fff" opacity="0.22"/><rect x="0" y="707" width="1000" height="1" fill="#fff" opacity="0.17"/><rect x="0" y="0" width="1" height="708" fill="#fff" opacity="0.06"/>
</svg></body></html>
